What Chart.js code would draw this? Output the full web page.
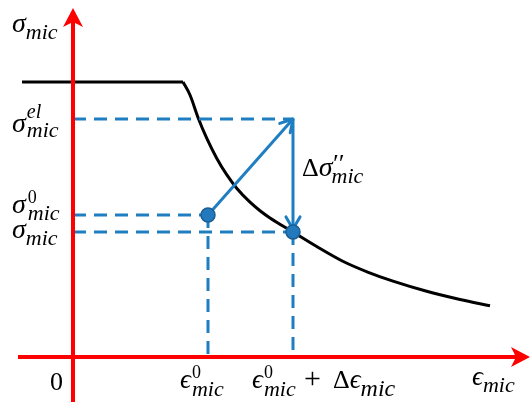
<!DOCTYPE html>
<html>
<head>
<meta charset="utf-8">
<script src="https://cdn.jsdelivr.net/npm/chart.js@4/dist/chart.umd.min.js"></script>
<style>
  html, body { margin: 0; padding: 0; background: #fff; }
  canvas { display: block; }
</style>
</head>
<body>
<canvas id="c" width="531" height="402"></canvas>
<script>
// Visible window of the strain / stress plane (arbitrary units)
const strainRange = [-0.73, 4.58];
const stressRange = [-0.45, 3.57];

// Reference state and increment
const eps0 = 1.35;
const dEps = 0.85;
const sigmaEl = 2.38;
const sigma0 = 1.42;
const sigmaMic = 1.25;

// Micro stress-strain law: plateau, then softening branch
const plateauStrain = [-0.51, 1.10];
const plateauStress = [2.75, 2.75];
const softStrain = [1.10, 1.17, 1.253, 1.337, 1.437, 1.537, 1.637, 1.77, 1.87, 1.97, 2.20, 2.437, 2.703, 2.953, 3.20, 3.537, 3.87, 4.17];
const softStress = [2.75, 2.62, 2.388, 2.188, 1.988, 1.823, 1.688, 1.548, 1.463, 1.391, 1.25, 1.105, 0.955, 0.847, 0.758, 0.657, 0.575, 0.513];

// Extent of the drawn coordinate axes
const strainAxisEnds = [-0.55, 4.57];
const stressAxisEnds = [-0.45, 3.49];

const BLUE = '#1f7ec2';
const RED = '#ff0000';

const zip = (xs, ys) => xs.map((x, i) => ({ x, y: ys[i] }));

const guide = (pts) => ({
  data: pts,
  showLine: true,
  borderColor: BLUE,
  borderWidth: 3,
  borderDash: [13, 8],
  pointRadius: 0,
  fill: false
});

const datasets = [
  // index 0 is painted last: the two state markers
  {
    data: [{ x: eps0, y: sigma0 }, { x: eps0 + dEps, y: sigmaMic }],
    showLine: false,
    pointRadius: 7,
    pointBackgroundColor: '#2379bd',
    pointBorderColor: '#1a5d92',
    pointBorderWidth: 1.5
  },
  // trial / return path shafts
  {
    data: [{ x: eps0, y: sigma0 }, { x: eps0 + dEps, y: sigmaEl }],
    showLine: true, borderColor: BLUE, borderWidth: 3, pointRadius: 0
  },
  {
    data: [{ x: eps0 + dEps, y: sigmaEl }, { x: eps0 + dEps, y: sigmaMic }],
    showLine: true, borderColor: BLUE, borderWidth: 3, pointRadius: 0
  },
  // dashed projections onto the axes
  guide([{ x: 0, y: sigmaEl }, { x: eps0 + dEps, y: sigmaEl }]),
  guide([{ x: 0, y: sigma0 }, { x: eps0, y: sigma0 }]),
  guide([{ x: 0, y: sigmaMic }, { x: eps0 + dEps, y: sigmaMic }]),
  guide([{ x: eps0, y: sigma0 }, { x: eps0, y: 0 }]),
  guide([{ x: eps0 + dEps, y: sigmaMic }, { x: eps0 + dEps, y: 0 }]),
  // constitutive curve
  {
    data: zip(plateauStrain, plateauStress),
    showLine: true, borderColor: '#000', borderWidth: 3, pointRadius: 0
  },
  {
    data: zip(softStrain, softStress),
    showLine: true, borderColor: '#000', borderWidth: 3, pointRadius: 0,
    cubicInterpolationMode: 'monotone'
  }
];

const serifI = (s) => `italic ${s}px "Liberation Serif", "DejaVu Serif", serif`;
const serif = (s) => `${s}px "Liberation Serif", "DejaVu Serif", serif`;

// Draws a run of text pieces left to right; pieces with keep:true do not advance
function run(ctx, x, y, pieces) {
  let cx = x;
  for (const p of pieces) {
    cx += p.pre || 0;
    ctx.font = p.font;
    ctx.fillText(p.t, cx, y + (p.dy || 0));
    if (!p.keep) cx += ctx.measureText(p.t).width;
  }
  return cx;
}

function chevron(ctx, x0, y0, x1, y1, len, ang) {
  const a = Math.atan2(y1 - y0, x1 - x0);
  ctx.beginPath();
  ctx.moveTo(x1 - len * Math.cos(a - ang), y1 - len * Math.sin(a - ang));
  ctx.lineTo(x1, y1);
  ctx.lineTo(x1 - len * Math.cos(a + ang), y1 - len * Math.sin(a + ang));
  ctx.stroke();
}

function axisHead(ctx, x, y, angle) {
  ctx.save();
  ctx.translate(x, y);
  ctx.rotate(angle);
  ctx.beginPath();
  ctx.moveTo(0, 0);
  ctx.lineTo(-19, -10);
  ctx.lineTo(-14, 0);
  ctx.lineTo(-19, 10);
  ctx.closePath();
  ctx.fill();
  ctx.restore();
}

const sketchPlugin = {
  id: 'sketch',
  afterDatasetDraw(chart, args) {
    // arrowheads go under the state markers
    if (args.index !== 1) return;
    const { ctx } = chart;
    const X = (v) => chart.scales.x.getPixelForValue(v);
    const Y = (v) => chart.scales.y.getPixelForValue(v);
    ctx.save();
    ctx.strokeStyle = BLUE;
    ctx.lineWidth = 3;
    ctx.lineCap = 'round';
    ctx.lineJoin = 'round';
    chevron(ctx, X(eps0), Y(sigma0), X(eps0 + dEps), Y(sigmaEl), 14, Math.PI / 6);
    chevron(ctx, X(eps0 + dEps), Y(sigmaEl), X(eps0 + dEps), Y(sigmaMic) - 3, 14, Math.PI / 6);
    ctx.restore();
  },
  afterDatasetsDraw(chart) {
    const { ctx } = chart;
    const X = (v) => chart.scales.x.getPixelForValue(v);
    const Y = (v) => chart.scales.y.getPixelForValue(v);
    const ox = X(0), oy = Y(0);

    // coordinate axes
    ctx.save();
    ctx.strokeStyle = RED;
    ctx.fillStyle = RED;
    ctx.lineWidth = 4;
    ctx.beginPath();
    ctx.moveTo(X(strainAxisEnds[0]), oy);
    ctx.lineTo(X(strainAxisEnds[1]) - 10, oy);
    ctx.moveTo(ox, Y(stressAxisEnds[0]));
    ctx.lineTo(ox, Y(stressAxisEnds[1]) + 10);
    ctx.stroke();
    axisHead(ctx, X(strainAxisEnds[1]), oy, 0);
    axisHead(ctx, ox, Y(stressAxisEnds[1]), -Math.PI / 2);
    ctx.restore();

    // labels
    ctx.save();
    ctx.fillStyle = '#000';
    ctx.textBaseline = 'alphabetic';
    const sub = (dy) => ({ t: 'mic', font: serifI(22), dy });

    // stress axis title
    run(ctx, 12, 32, [{ t: 'σ', font: serifI(28) }, sub(7)]);

    // stress levels
    let b = Y(sigmaEl) + 13;
    run(ctx, 12, b, [{ t: 'σ', font: serifI(28) },
      { t: 'el', font: serifI(20), dy: -14, keep: true, pre: 1 }, sub(5)]);
    b = Y(sigma0) - 2;
    run(ctx, 12, b, [{ t: 'σ', font: serifI(28) },
      { t: '0', font: serif(18), dy: -10, keep: true, pre: 2 }, sub(7)]);
    b = Y(sigmaMic) + 6;
    run(ctx, 12, b, [{ t: 'σ', font: serifI(28) }, sub(7)]);

    // stress decrement
    b = (Y(sigmaEl) + Y(sigmaMic)) / 2;
    run(ctx, X(eps0 + dEps) + 9, b, [{ t: 'Δ', font: serif(26) },
      { t: 'σ', font: serifI(28) },
      { t: '′′', font: serifI(26), dy: -4, keep: true, pre: -1 }, sub(7)]);

    // origin
    ctx.font = serif(26);
    ctx.fillText('0', ox - 23, oy + 33);

    // strain marks
    const eps = (x, y) => run(ctx, x, y, [{ t: 'ϵ', font: serifI(27) },
      { t: '0', font: serif(18), dy: -10, keep: true, pre: 1 }, sub(8)]);
    eps(X(eps0) - 28, oy + 31);
    const xr = X(eps0 + dEps);
    eps(xr - 41, oy + 31);
    run(ctx, xr + 11, oy + 31, [{ t: '+', font: serif(30) }]);
    run(ctx, xr + 40, oy + 31, [{ t: 'Δ', font: serif(26) }, { t: 'ϵ', font: serifI(27) },
      { t: 'mic', font: serifI(24), dy: 8 }]);

    // strain axis title
    run(ctx, X(strainAxisEnds[1]) - 58, oy + 28, [{ t: 'ϵ', font: serifI(27) }, sub(7)]);
    ctx.restore();
  }
};

new Chart(document.getElementById('c'), {
  type: 'scatter',
  data: { datasets },
  options: {
    responsive: false,
    devicePixelRatio: 1,
    animation: false,
    layout: { padding: 0, autoPadding: false },
    plugins: { legend: { display: false }, tooltip: { enabled: false } },
    scales: {
      x: { type: 'linear', display: false, min: strainRange[0], max: strainRange[1] },
      y: { type: 'linear', display: false, min: stressRange[0], max: stressRange[1] }
    }
  },
  plugins: [sketchPlugin]
});
</script>
</body>
</html>
